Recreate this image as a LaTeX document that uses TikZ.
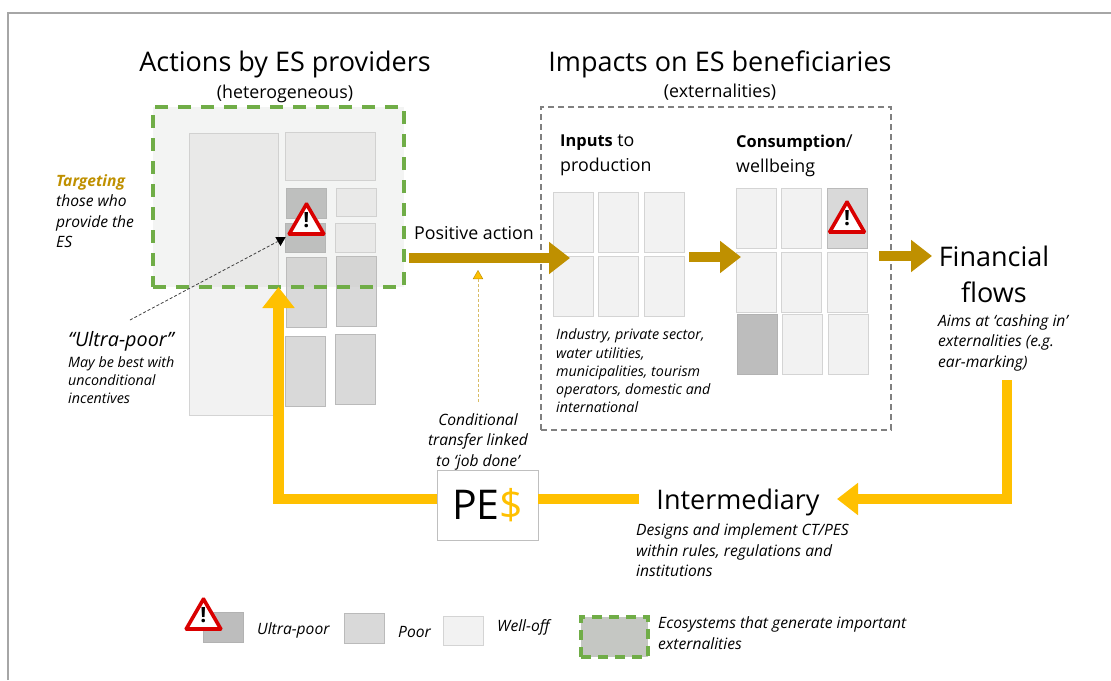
\documentclass[tikz,border=0pt]{standalone}
\usepackage{fontspec}
\setmainfont{Open Sans}
\usepackage{color}
\usetikzlibrary{arrows.meta,shapes.geometric}
\newcommand{\titlesize}{\fontsize{27}{36}\selectfont}
\newcommand{\headsize}{\fontsize{17.8}{25}\selectfont}
\newcommand{\headbold}[1]{{\fontsize{16.4}{25}\selectfont\bfseries #1}}
\newcommand{\notesize}{\fontsize{15.6}{20.5}\selectfont\itshape}
\newcommand{\smallsize}{\fontsize{14.3}{18.3}\selectfont\itshape}
\definecolor{goldline}{HTML}{BF9000}
\definecolor{yellowline}{HTML}{FFC000}
\definecolor{greendash}{HTML}{70AD47}
\definecolor{ultracell}{HTML}{BDBDBD}
\definecolor{poorcell}{HTML}{D9D9D9}
\definecolor{welloffcell}{HTML}{F2F2F2}
\definecolor{ecofill}{HTML}{C5C7C3}
\tikzset{
  ultra/.style={draw=black!30, line width=.7pt, fill=ultracell, inner sep=0pt},
  poor/.style={draw=black!27, line width=.7pt, fill=poorcell, inner sep=0pt},
  welloff/.style={draw=black!17, line width=.7pt, fill=welloffcell, inner sep=0pt},
  gridcell/.style={welloff, minimum width=40pt, minimum height=60pt},
  warning/.style={draw=red!85!black, line width=3.6pt, fill=white, regular polygon, regular polygon sides=3,
    minimum size=40pt, inner sep=0pt, rounded corners=.6pt,
    label={[font=\fontsize{21}{21}\selectfont\bfseries, yshift=4pt, inner sep=0pt]center:!}},
  plain/.style={inner sep=0pt, align=left, anchor=west},
  middle/.style={inner sep=0pt, align=center},
  goldarrow/.style={draw=goldline, line width=10.5pt, -{Triangle[width=31pt,length=21pt]}},
  yellowarrow/.style={draw=yellowline, line width=10.5pt},
  ecobox/.style={draw=greendash, line width=3.2pt, dash pattern=on 13pt off 10pt}
}

\begin{document}
\begin{tikzpicture}[x=1pt,y=-1pt]
  \useasboundingbox (0,0) rectangle (1111,680);
  \coordinate (framea) at (8,680);
  \coordinate (frameb) at (8,13);
  \coordinate (framec) at (1111,13);
  \draw[black!35, line width=1.2pt] (framea) to (frameb) to (framec);

  \node (acttitle) at (285,64) [middle, font=\titlesize] {Actions by ES providers};
  \node (actsub) at (285,93.5) [middle, font=\headsize] {(heterogeneous)};
  \node (imptitle) at (720,64) [middle, font=\titlesize] {Impacts on ES beneficiaries};
  \node (impsub) at (720,92.5) [middle, font=\headsize] {(externalities)};

  \node (bigcell) at (233.5,274) [welloff, minimum width=89pt, minimum height=282pt] {};
  \node (topcell) at (330,156) [welloff, minimum width=90pt, minimum height=48pt] {};
  \node (ultraa) at (306,203) [ultra, minimum width=40pt, minimum height=30pt] {};
  \node (ultrab) at (305,237.5) [ultra, minimum width=40pt, minimum height=29pt] {};
  \node (welloffa) at (356,202) [welloff, minimum width=40pt, minimum height=28pt] {};
  \node (welloffb) at (355,237.5) [welloff, minimum width=40pt, minimum height=29pt] {};
  \node (poora) at (306,292) [poor, minimum width=40pt, minimum height=70pt] {};
  \node (poorb) at (356,291) [poor, minimum width=40pt, minimum height=70pt] {};
  \node (poorc) at (305,371) [poor, minimum width=40pt, minimum height=70pt] {};
  \node (poord) at (355,369) [poor, minimum width=40pt, minimum height=70pt] {};
  \node (ecoarea) at (278.5,197) [ecobox, fill=ecofill, fill opacity=.2, draw opacity=1, minimum width=251pt, minimum height=180pt] {};
  \node (warnact) at (306.5,224) [warning] {};

  \node (impbox) at (716,268.5) [draw=black!50, line width=1.6pt, dash pattern=on 6pt off 4pt, minimum width=350pt, minimum height=323pt] {};
  \node (inputshead) at (560,155.5) [plain, font=\headsize] {\headbold{Inputs} to\\production};
  \node (conshead) at (736,155.5) [plain, font=\headsize] {\headbold{Consumption}/\\wellbeing};

  \node (ina) at (573,222) [gridcell] {};
  \node (inb) at (618.5,222) [gridcell] {};
  \node (inc) at (664.5,222) [gridcell] {};
  \node (ind) at (573,286.5) [gridcell] {};
  \node (ine) at (618.5,286.5) [gridcell] {};
  \node (inf) at (664.5,286.5) [gridcell] {};
  \node (consa) at (756.5,218) [gridcell] {};
  \node (consb) at (801,218) [gridcell] {};
  \node (consc) at (847,218) [gridcell, poor] {};
  \node (consd) at (756.5,282) [gridcell] {};
  \node (conse) at (801,282) [gridcell] {};
  \node (consf) at (847,282) [gridcell] {};
  \node (consg) at (757,344.5) [gridcell, ultra] {};
  \node (consh) at (802.5,344.5) [gridcell] {};
  \node (consi) at (848,344.5) [gridcell] {};
  \node (warncons) at (847,222) [warning] {};

  \node (target) at (56,211) [plain, font=\notesize] {\textcolor{goldline}{\textbf{Targeting}}\\those who\\provide the\\ES};
  \node (ultrahead) at (68,341) [plain, font=\fontsize{19.8}{20}\selectfont\itshape] {“Ultra-poor”};
  \node (ultranote) at (68,380) [plain, font=\smallsize] {May be best with\\unconditional\\incentives};
  \node (posaction) at (414,233) [plain, font=\headsize] {Positive action};
  \node (usersnote) at (556,371) [plain, font=\smallsize] {Industry, private sector,\\water utilities,\\municipalities, tourism\\operators,  domestic and\\international};
  \node (finflows) at (994,274.5) [middle, font=\titlesize] {Financial\\flows};
  \node (aimsnote) at (938,342.5) [plain, font=\notesize] {Aims at ‘cashing in’\\externalities (e.g.\\ear-marking)};
  \node (condnote) at (478,441.5) [middle, font=\notesize] {Conditional\\transfer linked\\to ‘job done’};
  \node (pesbox) at (487.5,505) [draw=black!25, line width=.8pt, fill=white, minimum width=101pt, minimum height=70pt, font=\fontsize{41}{41}\selectfont] {PE\textcolor{yellowline}{\$}};
  \node (interm) at (738,502) [middle, font=\titlesize] {Intermediary};
  \node (intermnote) at (636,550.5) [plain, font=\notesize] {Designs and implement CT/PES\\within rules, regulations and\\institutions};

  \coordinate (posstart) at (409,258);
  \coordinate (posend) at (570,258);
  \coordinate (inputsstart) at (689,257);
  \coordinate (inputsend) at (741,257);
  \coordinate (consstart) at (879,256);
  \coordinate (consend) at (932,256);
  \draw[goldarrow] (posstart) to (posend);
  \draw[goldarrow] (inputsstart) to (inputsend);
  \draw[goldarrow] (consstart) to (consend);

  \coordinate (flowstart) at (1007,380);
  \coordinate (flowcorner) at (1007,499);
  \coordinate (flowend) at (837,499);
  \coordinate (intermright) at (639,499);
  \coordinate (pescorner) at (278.5,499);
  \coordinate (pesend) at (278.5,287);
  \draw[yellowarrow, -{Triangle[width=31pt,length=21pt]}] (flowstart) to (flowcorner) to (flowend);
  \draw[yellowarrow] (intermright) to (pesbox.east |- intermright);
  \draw[yellowarrow, -{Triangle[width=31pt,length=21pt]}] (pesbox.west |- pescorner) to (pescorner) to (pesend);

  \node (condtip) at (478,276) [regular polygon, regular polygon sides=3, draw=goldline, line width=.5pt, fill=yellowline, minimum size=11pt, inner sep=0pt] {};
  \coordinate (condstart) at (478,402);
  \draw[goldline!60, densely dashed, line width=.8pt] (condstart) to (condtip);
  \node (ultratip) at (280.5,240) [regular polygon, regular polygon sides=3, shape border rotate=180, fill=black, minimum size=12pt, inner sep=0pt] {};
  \coordinate (ultrastart) at (130,320);
  \draw[black!75, densely dashed, line width=.8pt] (ultrastart) to (ultratip);

  \node (keyultra) at (223,627) [ultra, minimum width=40pt, minimum height=30pt] {};
  \node (keywarn) at (203.5,619) [warning] {};
  \node (keyultratext) at (257,630.5) [plain, font=\notesize] {Ultra-poor};
  \node (keypoor) at (364,628) [poor, minimum width=40pt, minimum height=30pt] {};
  \node (keypoortext) at (398,631.5) [plain, font=\notesize] {Poor};
  \node (keywelloff) at (463,630.5) [welloff, minimum width=40pt, minimum height=29pt] {};
  \node (keywellofftext) at (497,627.5) [plain, font=\notesize] {Well-off};
  \node (keyeco) at (614.5,637) [ecobox, fill=ecofill, dash pattern=on 10pt off 7pt, minimum width=67pt, minimum height=40pt] {};
  \node (keyecotext) at (658,633) [plain, font=\notesize] {Ecosystems that generate important\\externalities};
\end{tikzpicture}
\end{document}
